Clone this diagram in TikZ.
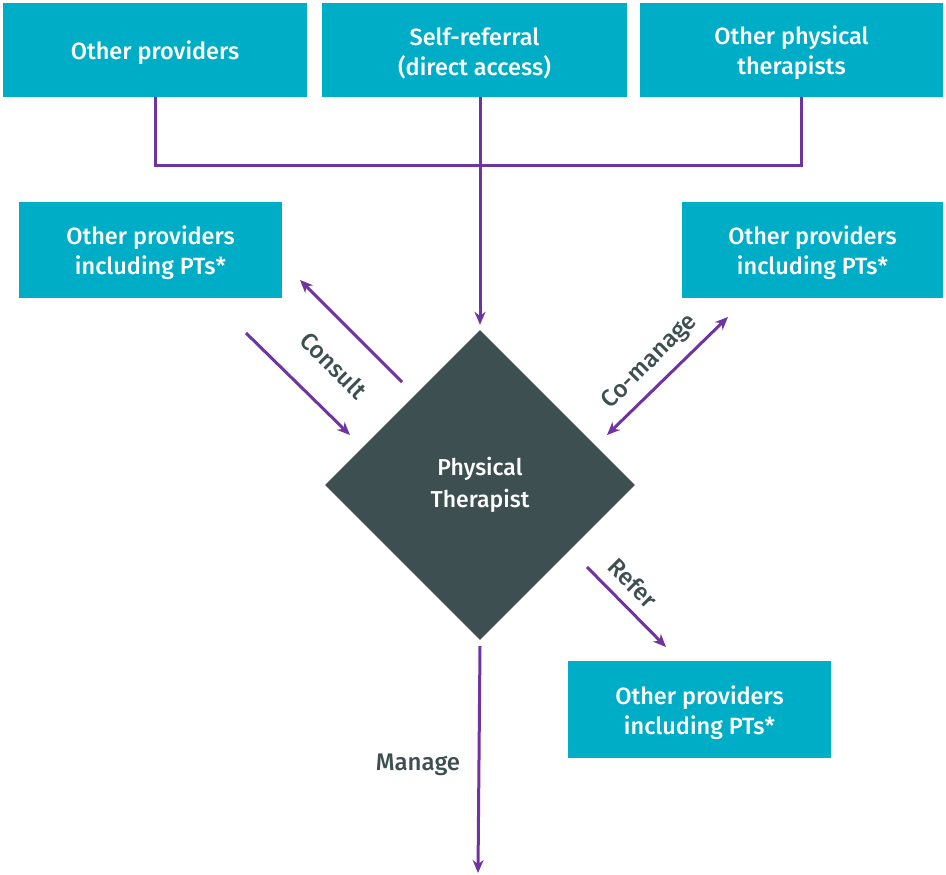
\documentclass[tikz,border=0pt]{standalone}
\usepackage{fontspec}
\setmainfont{Fira Sans Medium}
\usetikzlibrary{shapes.geometric,arrows.meta}
\definecolor{boxteal}{RGB}{0,173,198}
\definecolor{linkpurple}{RGB}{112,52,160}
\definecolor{slate}{RGB}{61,79,80}
% set a line of box text a little lower, keeping its box dimensions
\newcommand\boxline[1]{\raisebox{-3pt}[\height][\depth]{#1}}
\begin{document}
\begin{tikzpicture}[x=1pt,y=-1pt,
  box/.style={fill=boxteal, text=white, align=center, inner sep=0pt,
    font=\fontsize{23.5}{30}\selectfont},
  hub/.style={shape=diamond, fill=slate, text=white, align=center,
    inner sep=0pt, minimum size=310pt, font=\fontsize{23}{32}\selectfont},
  pline/.style={draw=linkpurple, line width=3pt},
  parrow/.style={pline, -{Stealth[length=13pt,width=11pt]}},
  pboth/.style={pline, {Stealth[length=13pt,width=11pt]}-{Stealth[length=13pt,width=11pt]}},
  tag/.style={text=slate, font=\fontsize{24}{26}\selectfont, inner sep=0pt}]
\useasboundingbox (0,0) rectangle (946,875);
\fill[white] (0,0) rectangle (946,875);

% referral sources
\node[box, minimum width=304pt, minimum height=94pt] (src1) at (155,50) {\boxline{Other providers}};
\node[box, minimum width=305pt, minimum height=94pt] (src2) at (474.5,50) {\boxline{Self-referral}\\\boxline{(direct access)}};
\node[box, minimum width=303pt, minimum height=94pt] (src3) at (791.5,50) {\boxline{Other physical}\\\boxline{therapists}};

% partner providers
\node[box, minimum width=263pt, minimum height=96pt] (consult) at (150.5,250) {\boxline{Other providers}\\\boxline{including PTs*}};
\node[box, minimum width=261pt, minimum height=96pt] (comanage) at (812.5,250) {\boxline{Other providers}\\\boxline{including PTs*}};
\node[box, minimum width=263pt, minimum height=97pt] (refer) at (699.5,709.5) {\boxline{Other providers}\\\boxline{including PTs*}};

% central role
\node[hub] (pt) at (480,485) {Physical\\Therapist};

% incoming referrals
\draw[pline] (src1.south) -- (src1.south |- 0,165) -- ([xshift=10pt]src3.south |- 0,165) -- ([xshift=10pt]src3.south);
\draw[parrow, shorten >=5pt] (pt.north |- src2.south) -- (pt.north);

% consult
\coordinate (c1a) at (402,382);
\coordinate (c1b) at (300,280);
\coordinate (c2a) at (246,333);
\coordinate (c2b) at (350,435);
\draw[parrow] (c1a) -- (c1b);
\draw[parrow] (c2a) -- (c2b);
\node[tag, rotate=-45] (consultlbl) at (334,365) {Consult};

% co-manage
\coordinate (m1) at (607,435);
\coordinate (m2) at (728,317);
\draw[pboth] (m1) -- (m2);
\node[tag, rotate=45] (comanagelbl) at (650,362) {Co-manage};

% refer
\coordinate (r1) at (587,567);
\coordinate (r2) at (666,647);
\draw[parrow] (r1) -- (r2);
\node[tag, rotate=-45] (referlbl) at (633,583) {Refer};

% manage
\coordinate (mg) at (478,873);
\draw[parrow] ([yshift=-6pt]pt.south) -- (mg);
\node[tag] (managelbl) at (418,765) {Manage};
\end{tikzpicture}
\end{document}
